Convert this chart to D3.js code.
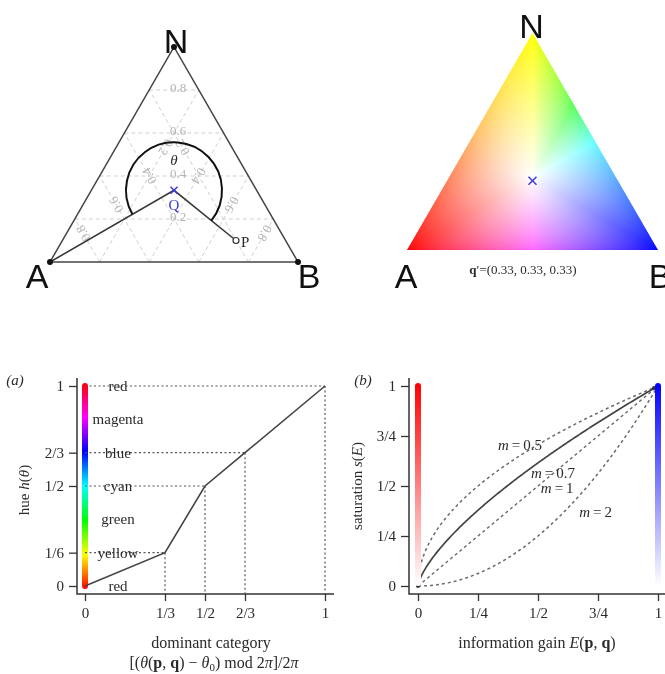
<!DOCTYPE html>
<html>
<head>
<meta charset="utf-8">
<script src="https://cdn.jsdelivr.net/npm/d3@7"></script>
<style>
  html, body { margin: 0; padding: 0; background: #fff; }
  #wrap { position: relative; width: 665px; height: 674px; overflow: hidden; }
  #wrap canvas, #wrap svg { position: absolute; left: 0; top: 0; }
</style>
</head>
<body>
<div id="wrap">
  <canvas id="tri" width="665" height="674"></canvas>
  <svg id="fig" width="665" height="674"></svg>
</div>
<script>
// ---------------- data ----------------
const vertexNames = ["A", "B", "N"];
const gridLevels = [0.2, 0.4, 0.6, 0.8];
const gridLabels = ["0.2", "0.4", "0.6", "0.8"];
const pointQ = [1 / 3, 1 / 3, 1 / 3];          // composition (A, B, N)
const pointP = [0.2, 0.7, 0.1];
const referenceLabel = "\u2032=(0.33, 0.33, 0.33)";

const dominantKnots = [0, 1 / 3, 1 / 2, 2 / 3, 1];
const hueKnots = [0, 1 / 6, 1 / 2, 2 / 3, 1];
const dominantTickLabels = ["0", "1/3", "1/2", "2/3", "1"];
const hueTickValues = [0, 1 / 6, 1 / 2, 2 / 3, 1];
const hueTickLabels = ["0", "1/6", "1/2", "2/3", "1"];
const colourNames = ["red", "yellow", "green", "cyan", "blue", "magenta", "red"];
const colourHues = [0, 1 / 6, 1 / 3, 1 / 2, 2 / 3, 5 / 6, 1];

const gainTicks = [0, 0.25, 0.5, 0.75, 1];
const gainTickLabels = ["0", "1/4", "1/2", "3/4", "1"];
const satTicks = [0, 0.25, 0.5, 0.75, 1];
const satTickLabels = ["0", "1/4", "1/2", "3/4", "1"];
const mValues = [0.5, 0.7, 1, 2];
const mChosen = 0.7;
const mSimplex = 0.5;   // saturation exponent used to paint the colour simplex

// ---------------- helpers ----------------
const hueOf = d3.scaleLinear().domain(dominantKnots).range(hueKnots);
// colour with value 1: pure hue blended towards white by (1 - saturation)
function hsvColour(h, s) {
  const c = d3.hsl(((h % 1) + 1) % 1 * 360, 1, 0.5).rgb();
  return d3.rgb(255 - s * (255 - c.r), 255 - s * (255 - c.g), 255 - s * (255 - c.b));
}
function ternary(x0, x1, yBase, yTop) {
  const sx = d3.scaleLinear().domain([0, 1]).range([x0, x1]);
  const sy = d3.scaleLinear().domain([0, 1]).range([yBase, yTop]);
  const f = ([a, b, n]) => [sx(b + n / 2), sy(n)];
  f.invert = (x, y) => {
    const n = sy.invert(y);
    const b = sx.invert(x) - n / 2;
    return [1 - b - n, b, n];
  };
  return f;
}
const triL = ternary(50, 298, 262, 47);
const triR = ternary(407, 658, 250, 33);
const corners = [[1, 0, 0], [0, 1, 0], [0, 0, 1]];

const svg = d3.select("#fig");
const serif = "'Liberation Serif', 'Times New Roman', serif";
const sans = "'Liberation Sans', Arial, sans-serif";
const ink = "#2a2a2a";

// ---------------- top left: simplex with angle ----------------
const gL = svg.append("g");
const gridG = gL.append("g").attr("stroke", "#cfcfcf").attr("stroke-width", 1)
  .attr("stroke-dasharray", "4,3").attr("fill", "none");
gridLevels.forEach(v => {
  const segs = [
    [[1 - v, 0, v], [0, 1 - v, v]],      // N level
    [[v, 1 - v, 0], [v, 0, 1 - v]],      // A level
    [[1 - v, v, 0], [0, v, 1 - v]]       // B level
  ];
  segs.forEach(s => gridG.append("path").attr("d", d3.line()(s.map(triL))));
});
const lblG = gL.append("g").attr("font-family", serif).attr("font-size", 13)
  .attr("fill", "#b4b4b4").attr("text-anchor", "middle").attr("dominant-baseline", "central");
gridLevels.forEach((v, i) => {
  const [nx, ny] = triL([(1 - v) / 2, (1 - v) / 2, v]);
  lblG.append("text").attr("x", nx + 4).attr("y", ny - 3).text(gridLabels[i]);
  const [ax, ay] = triL([v, (1 - v) / 3, 2 * (1 - v) / 3]);
  lblG.append("text").attr("transform", `translate(${ax},${ay}) rotate(-120)`).text(gridLabels[i]);
  const [bx, by] = triL([(1 - v) / 3, v, 2 * (1 - v) / 3]);
  lblG.append("text").attr("transform", `translate(${bx},${by}) rotate(120)`).text(gridLabels[i]);
});

gL.append("path").attr("d", d3.line()(corners.map(triL)) + "Z")
  .attr("fill", "none").attr("stroke", "#444").attr("stroke-width", 1.5);

const [qx, qy] = triL(pointQ);
const [px, py] = triL(pointP);
const [axL, ayL] = triL(corners[0]);
gL.append("path").attr("d", d3.line()([[axL, ayL], [qx, qy], [px, py]]))
  .attr("fill", "none").attr("stroke", "#3a3a3a").attr("stroke-width", 1.6);
// angle arc, sweeping from the A direction over the top to the P direction
const angA = Math.atan2(ayL - qy, axL - qx);
let angP = Math.atan2(py - qy, px - qx);
if (angP < angA) angP += 2 * Math.PI;
const arcPath = d3.path();
arcPath.arc(qx, qy, 48, angA, angP, false);
gL.append("path").attr("d", arcPath.toString()).attr("fill", "none")
  .attr("stroke", "#111").attr("stroke-width", 2);
gL.append("text").attr("x", qx).attr("y", qy - 30).attr("font-family", serif)
  .attr("font-style", "italic").attr("font-size", 15).attr("fill", ink)
  .attr("text-anchor", "middle").attr("dominant-baseline", "central").text("\u03b8");

corners.forEach(c => {
  const [x, y] = triL(c);
  gL.append("circle").attr("cx", x).attr("cy", y).attr("r", 3).attr("fill", "#111");
});
gL.append("circle").attr("cx", px).attr("cy", py).attr("r", 3)
  .attr("fill", "#fff").attr("stroke", "#333").attr("stroke-width", 1.2);
gL.append("text").attr("x", px + 5).attr("y", py + 1).attr("font-family", serif)
  .attr("font-size", 15).attr("fill", ink).attr("dominant-baseline", "central").text("P");

function cross(g, x, y, r, colour) {
  g.append("path").attr("d", `M${x - r},${y - r}L${x + r},${y + r}M${x - r},${y + r}L${x + r},${y - r}`)
    .attr("stroke", colour).attr("stroke-width", 1.5);
}
cross(gL, qx, qy, 3.5, "#3b3bd6");
gL.append("text").attr("x", qx).attr("y", qy + 15).attr("font-family", serif)
  .attr("font-size", 15).attr("fill", "#3b3bd6").attr("text-anchor", "middle")
  .attr("dominant-baseline", "central").text("Q");

const letterOffsetL = { A: [-13, 26], B: [11, 26], N: [2, 6] };
corners.forEach((c, i) => {
  const [x, y] = triL(c);
  const nm = vertexNames[i];
  gL.append("text").attr("x", x + letterOffsetL[nm][0]).attr("y", y + letterOffsetL[nm][1])
    .attr("font-family", sans).attr("font-size", 34).attr("fill", "#111")
    .attr("text-anchor", "middle").text(nm);
});

// ---------------- top right: colour simplex ----------------
(function paintSimplex() {
  const ctx = document.getElementById("tri").getContext("2d");
  const [cx, cy] = triR(pointQ);
  const [ax0, ay0] = triR(corners[0]);
  const angRef = Math.atan2(ay0 - cy, ax0 - cx);
  const ln3 = Math.log(3);
  const xs = [triR(corners[0])[0], triR(corners[1])[0]];
  const ys = [triR(corners[2])[1], triR(corners[0])[1]];
  const x0 = Math.floor(xs[0]) - 1, x1 = Math.ceil(xs[1]) + 1;
  const y0 = Math.floor(ys[0]) - 1, y1 = Math.ceil(ys[1]) + 1;
  const w = x1 - x0, h = y1 - y0;
  const img = ctx.createImageData(w, h);
  const ss = 3;
  for (let j = 0; j < h; j++) {
    for (let i = 0; i < w; i++) {
      let r = 0, g = 0, b = 0, cov = 0;
      for (let sj = 0; sj < ss; sj++) for (let si = 0; si < ss; si++) {
        const x = x0 + i + (si + 0.5) / ss, y = y0 + j + (sj + 0.5) / ss;
        const p = triR.invert(x, y);
        if (p[0] < 0 || p[1] < 0 || p[2] < 0) continue;
        let H = 0;
        p.forEach(v => { if (v > 1e-12) H -= v * Math.log(v); });
        const E = Math.max(0, 1 - H / ln3);
        const s = Math.pow(E, mSimplex);
        let d = (Math.atan2(y - cy, x - cx) - angRef) / (2 * Math.PI);
        d = ((d % 1) + 1) % 1;
        const col = hsvColour(hueOf(d), s);
        r += col.r; g += col.g; b += col.b; cov++;
      }
      const k = (j * w + i) * 4;
      if (cov > 0) {
        img.data[k] = r / cov; img.data[k + 1] = g / cov; img.data[k + 2] = b / cov;
        img.data[k + 3] = Math.round(255 * cov / (ss * ss));
      }
    }
  }
  ctx.putImageData(img, x0, y0);
})();

const gR = svg.append("g");
const [cxR, cyR] = triR(pointQ);
cross(gR, cxR, cyR + 3, 4, "#3b3bd6");
const letterOffsetR = { A: [-1, 38], B: [2, 38], N: [-1, 5] };
corners.forEach((c, i) => {
  const [x, y] = triR(c);
  const nm = vertexNames[i];
  gR.append("text").attr("x", x + letterOffsetR[nm][0]).attr("y", y + letterOffsetR[nm][1])
    .attr("font-family", sans).attr("font-size", 34).attr("fill", "#111")
    .attr("text-anchor", "middle").text(nm);
});
const qLab = gR.append("text").attr("x", 523).attr("y", 274).attr("font-family", serif)
  .attr("font-size", 13).attr("fill", ink).attr("text-anchor", "middle");
qLab.append("tspan").attr("font-weight", "bold").text("q");
qLab.append("tspan").text(referenceLabel);

// ---------------- bottom panels: shared frame ----------------
function frame(g, left, right, top, bottom) {
  g.append("path").attr("d", `M${left},${top}V${bottom}H${right}`)
    .attr("fill", "none").attr("stroke", "#333").attr("stroke-width", 1.5);
}
function styleAxis(sel) {
  sel.select(".domain").remove();
  sel.selectAll(".tick line").attr("stroke", "#333").attr("stroke-width", 1.3);
  sel.selectAll(".tick text").attr("font-family", serif).attr("font-size", 15).attr("fill", ink);
}
const bottomY = 594, topY = 378;

// ---------------- panel (a): hue ----------------
const xa = d3.scaleLinear().domain([0, 1]).range([85, 325]);
const ya = d3.scaleLinear().domain([0, 1]).range([586, 386]);
const gA = svg.append("g");
frame(gA, 77, 334, topY, bottomY);
gA.append("g").attr("transform", `translate(77,0)`)
  .call(d3.axisLeft(ya).tickValues(hueTickValues).tickFormat((d, i) => hueTickLabels[i])
    .tickSize(8).tickPadding(5)).call(styleAxis);
gA.append("g").attr("transform", `translate(0,${bottomY})`)
  .call(d3.axisBottom(xa).tickValues(dominantKnots).tickFormat((d, i) => dominantTickLabels[i])
    .tickSize(7).tickPadding(6)).call(styleAxis);

const defs = svg.append("defs");
const rainbow = defs.append("linearGradient").attr("id", "rainbow")
  .attr("x1", 0).attr("y1", 1).attr("x2", 0).attr("y2", 0);
d3.range(0, 1.0001, 1 / 24).forEach(t => {
  rainbow.append("stop").attr("offset", t).attr("stop-color", hsvColour(t, 1, 1).formatHex());
});
gA.append("rect").attr("x", xa(0) - 3).attr("y", ya(1) - 3).attr("width", 6)
  .attr("height", ya(0) - ya(1) + 6).attr("rx", 3).attr("fill", "url(#rainbow)");

const guideG = gA.append("g").attr("stroke", "#555").attr("stroke-width", 1.2)
  .attr("stroke-dasharray", "2,2.5").attr("fill", "none");
dominantKnots.forEach((d, i) => {
  if (i === 0) return;
  const h = hueKnots[i];
  guideG.append("path").attr("d", `M${xa(0)},${ya(h)}H${xa(d)}`);
  guideG.append("path").attr("d", `M${xa(d)},${ya(h)}V${bottomY}`);
});
const names = gA.append("g").attr("font-family", serif).attr("font-size", 15).attr("fill", ink)
  .attr("text-anchor", "middle").attr("dominant-baseline", "central");
colourNames.forEach((nm, i) => names.append("text").attr("x", 118).attr("y", ya(colourHues[i])).text(nm));

gA.append("path").attr("d", d3.line().x((d, i) => xa(d)).y((d, i) => ya(hueKnots[i]))(dominantKnots))
  .attr("fill", "none").attr("stroke", "#444").attr("stroke-width", 1.6);

gA.append("text").attr("x", 15).attr("y", 380).attr("font-family", serif).attr("font-style", "italic")
  .attr("font-size", 15).attr("fill", ink).attr("text-anchor", "middle")
  .attr("dominant-baseline", "central").text("(a)");
const yTitA = gA.append("text").attr("transform", "translate(24,490) rotate(-90)")
  .attr("font-family", serif).attr("font-size", 15).attr("fill", ink)
  .attr("text-anchor", "middle").attr("dominant-baseline", "central");
yTitA.append("tspan").text("hue ");
yTitA.append("tspan").attr("font-style", "italic").text("h");
yTitA.append("tspan").text("(");
yTitA.append("tspan").attr("font-style", "italic").text("\u03b8");
yTitA.append("tspan").text(")");
gA.append("text").attr("x", 211).attr("y", 648).attr("font-family", serif).attr("font-size", 16)
  .attr("fill", ink).attr("text-anchor", "middle").text("dominant category");
const formula = gA.append("text").attr("x", 214).attr("y", 668).attr("font-family", serif)
  .attr("font-size", 16).attr("fill", ink).attr("text-anchor", "middle");
formula.append("tspan").text("[(");
formula.append("tspan").attr("font-style", "italic").text("\u03b8");
formula.append("tspan").text("(");
formula.append("tspan").attr("font-weight", "bold").text("p");
formula.append("tspan").text(", ");
formula.append("tspan").attr("font-weight", "bold").text("q");
formula.append("tspan").text(") \u2212 ");
formula.append("tspan").attr("font-style", "italic").text("\u03b8");
formula.append("tspan").attr("font-size", 11).attr("dy", 3).text("0");
formula.append("tspan").attr("dy", -3).text(") mod 2");
formula.append("tspan").attr("font-style", "italic").text("\u03c0");
formula.append("tspan").text("]/2");
formula.append("tspan").attr("font-style", "italic").text("\u03c0");

// ---------------- panel (b): saturation ----------------
const xb = d3.scaleLinear().domain([0, 1]).range([418, 658]);
const yb = d3.scaleLinear().domain([0, 1]).range([586, 386]);
const gB = svg.append("g");
frame(gB, 409, 668, topY, bottomY);
gB.append("g").attr("transform", `translate(409,0)`)
  .call(d3.axisLeft(yb).tickValues(satTicks).tickFormat((d, i) => satTickLabels[i])
    .tickSize(8).tickPadding(5)).call(styleAxis);
gB.append("g").attr("transform", `translate(0,${bottomY})`)
  .call(d3.axisBottom(xb).tickValues(gainTicks).tickFormat((d, i) => gainTickLabels[i])
    .tickSize(7).tickPadding(6)).call(styleAxis);

function satGradient(id, hue) {
  const gr = defs.append("linearGradient").attr("id", id)
    .attr("x1", 0).attr("y1", 1).attr("x2", 0).attr("y2", 0);
  d3.range(0, 1.0001, 0.1).forEach(t => {
    gr.append("stop").attr("offset", t).attr("stop-color", hsvColour(hue, t).formatHex());
  });
}
satGradient("satRed", 0);
satGradient("satBlue", 2 / 3);

const curveLine = d3.line().x(d => xb(d[0])).y(d => yb(d[1]));
const gainGrid = d3.range(0, 1.0001, 0.005);
mValues.forEach(m => {
  const pts = gainGrid.map(E => [E, Math.pow(E, m)]);
  const path = gB.append("path").attr("d", curveLine(pts)).attr("fill", "none")
    .attr("stroke-width", 1.5);
  if (m === mChosen) path.attr("stroke", "#444").attr("stroke-width", 1.7);
  else path.attr("stroke", "#6a6a6a").attr("stroke-dasharray", "3,3");
});
gB.append("circle").attr("cx", xb(0)).attr("cy", yb(0)).attr("r", 2).attr("fill", "#333");
gB.append("circle").attr("cx", xb(1) - 4).attr("cy", yb(1) + 2).attr("r", 2).attr("fill", "#333");

gB.append("rect").attr("x", xb(0) - 3).attr("y", yb(1) - 3).attr("width", 6)
  .attr("height", yb(0) - yb(1) + 3).attr("rx", 3).attr("fill", "url(#satRed)");
gB.append("rect").attr("x", xb(1) - 3).attr("y", yb(1) - 3).attr("width", 6)
  .attr("height", yb(0) - yb(1) + 3).attr("rx", 3).attr("fill", "url(#satBlue)");

// curve annotations, placed in (E, s) units
const mLabelPlaces = [[0.425, 0.705], [0.5625, 0.565], [0.58, 0.49], [0.74, 0.37]];
const mLab = gB.append("g").attr("font-family", serif).attr("font-size", 15).attr("fill", ink)
  .attr("text-anchor", "middle").attr("dominant-baseline", "central");
mValues.forEach((m, i) => {
  const t = mLab.append("text").attr("x", xb(mLabelPlaces[i][0])).attr("y", yb(mLabelPlaces[i][1]));
  t.append("tspan").attr("font-style", "italic").text("m");
  t.append("tspan").text("\u2009=\u2009" + m);
});

gB.append("text").attr("x", 363).attr("y", 380).attr("font-family", serif).attr("font-style", "italic")
  .attr("font-size", 15).attr("fill", ink).attr("text-anchor", "middle")
  .attr("dominant-baseline", "central").text("(b)");
const yTitB = gB.append("text").attr("transform", "translate(357,486) rotate(-90)")
  .attr("font-family", serif).attr("font-size", 15).attr("fill", ink)
  .attr("text-anchor", "middle").attr("dominant-baseline", "central");
yTitB.append("tspan").text("saturation ");
yTitB.append("tspan").attr("font-style", "italic").text("s");
yTitB.append("tspan").text("(");
yTitB.append("tspan").attr("font-style", "italic").text("E");
yTitB.append("tspan").text(")");
const xTitB = gB.append("text").attr("x", 537).attr("y", 648).attr("font-family", serif)
  .attr("font-size", 16).attr("fill", ink).attr("text-anchor", "middle");
xTitB.append("tspan").text("information gain ");
xTitB.append("tspan").attr("font-style", "italic").text("E");
xTitB.append("tspan").text("(");
xTitB.append("tspan").attr("font-weight", "bold").text("p");
xTitB.append("tspan").text(", ");
xTitB.append("tspan").attr("font-weight", "bold").text("q");
xTitB.append("tspan").text(")");
</script>
</body>
</html>
